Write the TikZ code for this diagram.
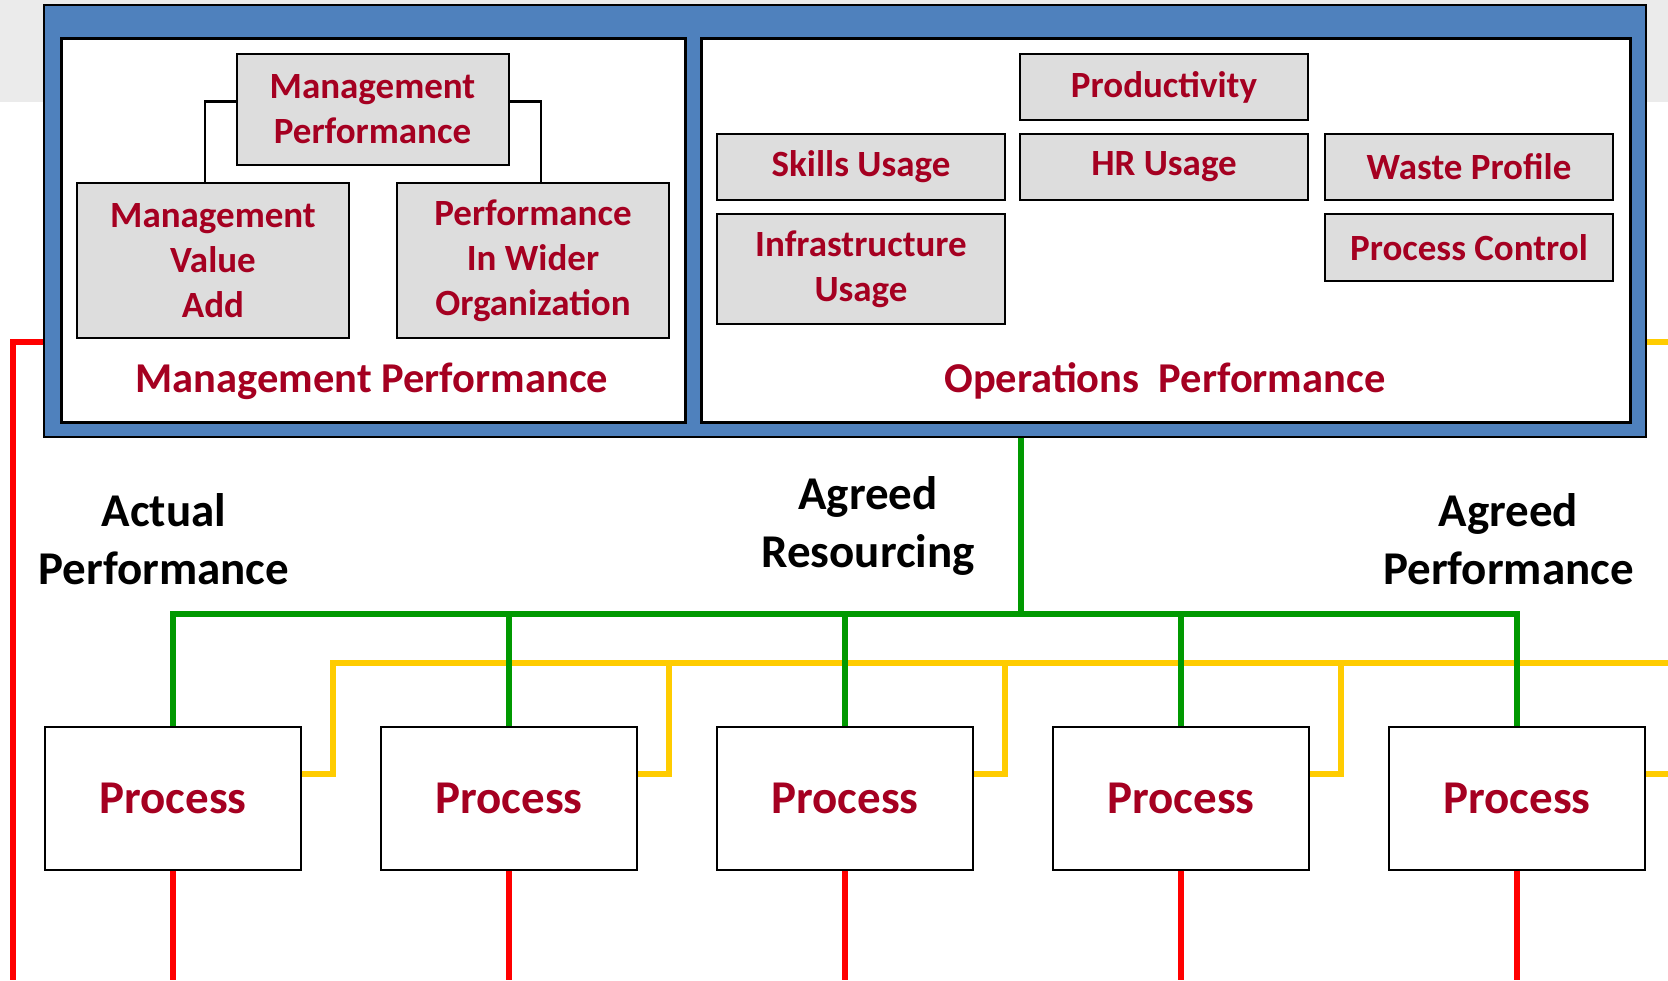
\documentclass[tikz,border=0pt]{standalone}
\usepackage{fontspec}
\setmainfont{Carlito}
\usetikzlibrary{positioning}
\definecolor{frameblue}{RGB}{79,129,189}
\definecolor{boxgrey}{RGB}{221,221,221}
\definecolor{bandgrey}{RGB}{235,235,235}
\definecolor{txtred}{RGB}{165,0,33}
\definecolor{linegreen}{RGB}{0,153,0}
\definecolor{lineyellow}{RGB}{255,204,0}
\definecolor{linered}{RGB}{255,0,0}

\begin{document}
\begin{tikzpicture}[x=1pt,y=-1pt]
\tikzstyle{every node}+=[inner sep=0pt]
\tikzset{
  kpi/.style={draw=black, line width=2pt, fill=boxgrey, text=txtred, align=center,
    minimum width=288pt, minimum height=66pt, font=\fontsize{37}{45}\selectfont\bfseries},
  mgmt/.style={kpi, minimum width=272pt},
  panel/.style={draw=black, line width=3pt, fill=white},
  paneltitle/.style={text=txtred, font=\fontsize{42.5}{50}\selectfont\bfseries},
  procbox/.style={draw=black, line width=2pt, fill=white, text=txtred,
    minimum width=256pt, minimum height=143pt, font=\fontsize{47}{56}\selectfont\bfseries},
  flowlabel/.style={align=center, font=\fontsize{47}{58}\selectfont\bfseries},
  resline/.style={linegreen, line width=5.3pt},
  perfline/.style={lineyellow, line width=5.3pt},
  actline/.style={linered, line width=5.3pt}
}
\useasboundingbox (0,0) rectangle (1668,980);
\fill [bandgrey] (0,0) rectangle (1668,102);
\node [draw=black, line width=1.5pt, fill=frameblue, minimum width=1602pt, minimum height=432pt] (frame) at (845,221) {};
\node [panel, minimum width=624pt, minimum height=384pt] (mpanel) at (373,230) {};
\node [panel, minimum width=929pt, minimum height=384pt] (opanel) at (1165.5,230) {};

\node [mgmt, minimum height=111pt] (mperf) at (372.5,109.5) {Management\\Performance};
\node [mgmt, minimum height=155pt] (mva) at (213,260.5) {Management\\Value\\Add};
\node [mgmt, minimum height=155pt] (pwo) at (533,260.5) {Performance\\In Wider\\Organization};
\draw [black, line width=2.5pt] ([yshift=8pt]mperf.west) -| ([xshift=-8pt]mva.north);
\draw [black, line width=2.5pt] ([yshift=8pt]mperf.east) -| ([xshift=8pt]pwo.north);
\node [paneltitle] (mtitle) at (372,381) {Management Performance};

\node [kpi] (prod) at (1164,87) {Productivity};
\node [kpi] (skills) at (861,167) {Skills Usage};
\node [kpi] (hr) at (1164,167) {HR Usage};
\node [kpi] (waste) at (1469,167) {Waste Profile};
\node [kpi, minimum height=110pt] (infra) at (861,269) {Infrastructure\\Usage};
\node [kpi, minimum height=67pt] (pctrl) at (1469,247.5) {Process Control};
\node [paneltitle] (otitle) at (1165,381) {Operations\ \ Performance};

\node [flowlabel] (actual) at (164,539) {Actual\\Performance};
\node [flowlabel] (resourcing) at (868,526) {Agreed\\Resourcing};
\node [flowlabel] (agreed) at (1508.5,539) {Agreed\\Performance};

\foreach \i/\x in {1/173,2/509,3/845,4/1181,5/1517}
  \node [procbox] (p\i) at (\x,798) {Process};

\coordinate (ybus) at (0,663);
\coordinate (gsplit) at (1021,614);
\draw [perfline] (332,663) -- (1668,663);
\foreach \i in {1,...,4}
  \draw [perfline] ([yshift=24pt]p\i.east) -- ++(31,0) |- (ybus -| 1668,0);
\draw [perfline] ([yshift=24pt]p5.east) -- ++(30,0);
\draw [perfline] (frame.east |- 0,342) -- (1668,342);

\draw [resline] (frame.south -| gsplit) -- (gsplit);
\draw [resline] (p1.north) |- (p5.north |- gsplit) -- (p5.north);
\foreach \i in {2,3,4}
  \draw [resline] (p\i.north) -- (p\i.north |- gsplit);

\foreach \i in {1,...,5}
  \draw [actline] (p\i.south) -- (p\i.south |- 0,980);
\draw [actline] (frame.west |- 0,342) -| (13,980);
\end{tikzpicture}
\end{document}
